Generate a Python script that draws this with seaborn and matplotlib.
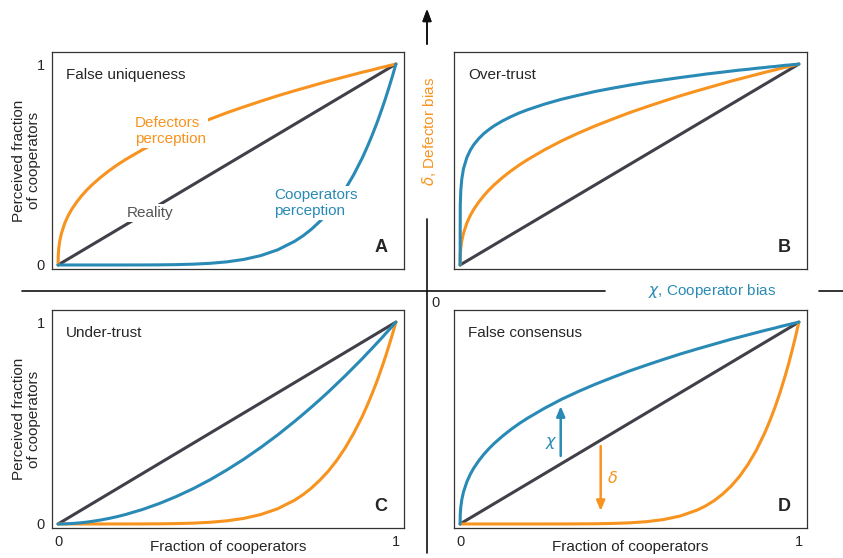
import seaborn as sns
import matplotlib.pyplot as plt
from matplotlib.lines import Line2D

# fraction of cooperators (shared x grid, denser near the ends)
x_frac = [0, 0.0005, 0.002, 0.005, 0.01, 0.02, 0.03, 0.04, 0.055, 0.07, 0.085, 0.1, 0.125, 0.15,
          0.175, 0.2, 0.25, 0.3, 0.35, 0.4, 0.45, 0.5, 0.55, 0.6, 0.65, 0.7, 0.725, 0.75, 0.775,
          0.8, 0.825, 0.85, 0.875, 0.9, 0.915, 0.93, 0.945, 0.96, 0.97, 0.98, 0.99, 1.0]
reality = x_frac

# perceived fraction
a_defectors = [0, 0.048, 0.083, 0.120, 0.158, 0.209, 0.246, 0.276, 0.313, 0.345, 0.373, 0.398,
               0.435, 0.468, 0.498, 0.525, 0.574, 0.618, 0.657, 0.693, 0.726, 0.758, 0.787, 0.815,
               0.842, 0.867, 0.879, 0.891, 0.903, 0.915, 0.926, 0.937, 0.948, 0.959, 0.965, 0.971,
               0.978, 0.984, 0.988, 0.992, 0.996, 1.0]
a_cooperators = [0, 0, 0, 0, 0, 0, 0, 0, 0, 0, 0, 0, 0, 0, 0,
                 0.0001, 0.0002, 0.0007, 0.0018, 0.0041, 0.0083, 0.0156, 0.0277, 0.0467, 0.0754,
                 0.1176, 0.145, 0.178, 0.217, 0.262, 0.315, 0.377, 0.449, 0.531, 0.587, 0.647,
                 0.712, 0.783, 0.833, 0.886, 0.941, 1.0]
b_defectors = a_defectors
b_cooperators = [0, 0.296, 0.370, 0.428, 0.479, 0.535, 0.571, 0.598, 0.629, 0.654, 0.674, 0.692,
                 0.717, 0.738, 0.757, 0.773, 0.801, 0.825, 0.845, 0.864, 0.880, 0.895, 0.909, 0.921,
                 0.933, 0.944, 0.950, 0.955, 0.960, 0.965, 0.970, 0.974, 0.979, 0.983, 0.986, 0.988,
                 0.991, 0.994, 0.995, 0.997, 0.998, 1.0]
c_defectors = a_cooperators
c_cooperators = [0, 0, 0, 0, 0.0002, 0.0006, 0.0013, 0.0022, 0.0040, 0.0064, 0.0092, 0.0126,
                 0.0193, 0.0272, 0.0364, 0.047, 0.0718, 0.1015, 0.136, 0.175, 0.219, 0.268, 0.321,
                 0.379, 0.441, 0.508, 0.543, 0.579, 0.616, 0.654, 0.694, 0.734, 0.776, 0.818, 0.845,
                 0.871, 0.898, 0.925, 0.944, 0.962, 0.981, 1.0]
d_defectors = [0, 0, 0, 0, 0, 0, 0, 0, 0, 0, 0, 0, 0, 0, 0, 0, 0,
               0.0001, 0.0004, 0.0010, 0.0025, 0.0055, 0.0113, 0.0217, 0.0395, 0.069, 0.0896,
               0.1156, 0.148, 0.1875, 0.236, 0.2956, 0.367, 0.4538, 0.514, 0.5802, 0.654, 0.7362,
               0.795, 0.8594, 0.927, 1.0]
d_cooperators = a_defectors

panel_letters = ['A', 'B', 'C', 'D']
panel_titles = ['False uniqueness', 'Over-trust', 'Under-trust', 'False consensus']

# arrows showing the biases in panel D (x, y_start, y_end)
chi_arrow = (0.297, 0.337, 0.584)
delta_arrow = (0.415, 0.386, 0.064)

ORANGE = '#F7931E'
BLUE = '#2A8AB6'
GREY = '#414049'

sns.set_theme(style='white')
plt.rcParams['font.family'] = ['Liberation Sans', 'DejaVu Sans']
plt.rcParams['mathtext.fontset'] = 'dejavusans'

W, H = 843, 558
fig = plt.figure(figsize=(W / 100, H / 100), dpi=100)


def box(left, top, right, bottom):
    return [left / W, 1 - bottom / H, (right - left) / W, (bottom - top) / H]


boxes = [box(52, 52, 404, 269), box(454, 52, 807, 269),
         box(52, 310, 404, 528), box(454, 310, 807, 528)]
curves = [(a_defectors, a_cooperators), (b_defectors, b_cooperators),
          (c_defectors, c_cooperators), (d_defectors, d_cooperators)]

axes = []
for i, (letter, title, pos, (defe, coop)) in enumerate(zip(panel_letters, panel_titles, boxes, curves)):
    ax = fig.add_axes(pos)
    sns.lineplot(x=x_frac, y=reality, ax=ax, color=GREY, linewidth=2.2, estimator=None, sort=False)
    sns.lineplot(x=x_frac, y=defe, ax=ax, color=ORANGE, linewidth=2.2, estimator=None, sort=False)
    sns.lineplot(x=x_frac, y=coop, ax=ax, color=BLUE, linewidth=2.2, estimator=None, sort=False)
    ax.set_xlim(-0.018, 1.024)
    ax.set_ylim(-0.02, 1.06)
    ax.set_xticks([0, 1])
    ax.set_yticks([0, 1])
    left = i % 2 == 0
    bottom = i >= 2
    ax.set_xticklabels(['0', '1'] if bottom else [])
    ax.set_yticklabels(['0', '1'] if left else [])
    ax.tick_params(axis='x', direction='in', length=3, width=0.8, color='#333', pad=5, labelsize=10.5)
    ax.tick_params(axis='y', direction='out' if left else 'in', length=3, width=0.8,
                   color='#333', pad=2, labelsize=10.5)
    for sp in ax.spines.values():
        sp.set_color('#333')
        sp.set_linewidth(0.9)
    ax.text(0.04, 0.894, title, transform=ax.transAxes, fontsize=11, va='center', ha='left')
    ax.text(0.935, 0.10, letter, transform=ax.transAxes, fontsize=13, fontweight='bold',
            va='center', ha='center')
    if left:
        ax.set_ylabel('Perceived fraction\nof cooperators', fontsize=11, linespacing=1.1)
        ax.yaxis.set_label_coords(-0.03, 0.5)
    if bottom:
        ax.set_xlabel('Fraction of cooperators', fontsize=11, va='top')
        ax.xaxis.set_label_coords(0.5, -0.055)
    axes.append(ax)

# labels on panel A
ax = axes[0]
wb = dict(facecolor='white', edgecolor='none', pad=1.5)
ax.text(0.236, 0.636, 'Defectors\nperception', transform=ax.transAxes, color=ORANGE,
        fontsize=11, va='center', ha='left', linespacing=1.1, bbox=wb)
ax.text(0.213, 0.258, 'Reality', transform=ax.transAxes, color='#555555',
        fontsize=11, va='center', ha='left', bbox=wb)
ax.text(0.631, 0.304, 'Cooperators\nperception', transform=ax.transAxes, color=BLUE,
        fontsize=11, va='center', ha='left', linespacing=1.1, bbox=wb)

# bias arrows on panel D
ax = axes[3]
for (xa, ys, ye), col in [(chi_arrow, BLUE), (delta_arrow, ORANGE)]:
    ax.annotate('', xy=(xa, ye), xytext=(xa, ys),
                arrowprops=dict(arrowstyle='-|>,head_width=0.25,head_length=0.6', color=col, lw=1.8,
                                mutation_scale=10, shrinkA=0, shrinkB=0))
ax.text(0.27, 0.40, r'$\chi$', color=BLUE, fontsize=11.5, ha='center', va='center')
ax.text(0.45, 0.23, r'$\delta$', color=ORANGE, fontsize=11.5, ha='center', va='center')


# quadrant axes drawn in figure pixels
def fx(px):
    return px / W


def fy(py):
    return 1 - py / H


for (x0, y0, x1, y1) in [(22, 291, 605, 291), (819, 291, 843, 291), (427, 219, 427, 553)]:
    fig.add_artist(Line2D([fx(x0), fx(x1)], [fy(y0), fy(y1)], color='#111111', linewidth=1.2))
fig.add_artist(plt.annotate('', xy=(fx(427), fy(9)), xytext=(fx(427), fy(44)), xycoords='figure fraction',
                            arrowprops=dict(arrowstyle='-|>,head_width=0.3,head_length=0.8', color='#111111',
                                            lw=1.2, mutation_scale=9, shrinkA=0, shrinkB=0)))
fig.text(fx(436), fy(303), '0', fontsize=10.5, ha='center', va='center')
fig.text(fx(712), fy(291), r'$\chi$, Cooperator bias', color=BLUE, fontsize=11, ha='center', va='center')
fig.text(fx(429), fy(131), r'$\delta$, Defector bias', color=ORANGE, fontsize=11,
         ha='center', va='center', rotation=90)

fig.savefig('out.png', dpi=100)
